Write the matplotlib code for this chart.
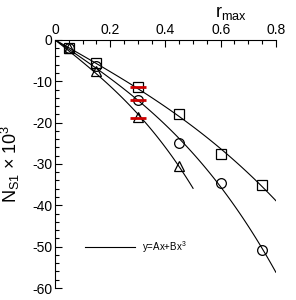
import numpy as np
import matplotlib.pyplot as plt
from matplotlib.ticker import MultipleLocator

plt.rcParams['font.family'] = ['Liberation Sans', 'DejaVu Sans']
plt.rcParams['mathtext.fontset'] = 'custom'
plt.rcParams['mathtext.rm'] = 'Liberation Sans'
plt.rcParams['mathtext.it'] = 'Liberation Sans'

# data
x_sq = [0.05, 0.15, 0.30, 0.45, 0.60, 0.75]
y_sq = [-2.0, -5.5, -11.5, -18.0, -27.5, -35.0]
x_ci = [0.05, 0.15, 0.30, 0.45, 0.60, 0.75]
y_ci = [-2.0, -6.3, -14.6, -25.0, -34.5, -50.7]
x_tr = [0.05, 0.15, 0.30, 0.45]
y_tr = [-2.0, -7.5, -18.7, -30.5]
x_red = [0.30, 0.30, 0.30]
y_red = [-11.3, -14.6, -19.0]
fit_end = [0.8, 0.8, 0.5]


def fit_curve(x, y, xmax):
    x = np.asarray(x)
    M = np.column_stack([x, x ** 3])
    (a, b), *_ = np.linalg.lstsq(M, np.asarray(y), rcond=None)
    xs = np.linspace(0, xmax, 100)
    return xs, a * xs + b * xs ** 3


fig = plt.figure(figsize=(2.96, 3.0), dpi=100)
ax = fig.add_axes([0.186, 0.04, 0.746, 0.827])

for (x, y, xe) in [(x_sq, y_sq, fit_end[0]), (x_ci, y_ci, fit_end[1]), (x_tr, y_tr, fit_end[2])]:
    xs, ys = fit_curve(x, y, xe)
    ax.plot(xs, ys, color='black', lw=0.8)

ax.plot(x_sq, y_sq, 's', ms=7, mfc='none', mec='black', mew=0.9)
ax.plot(x_ci, y_ci, 'o', ms=7, mfc='none', mec='black', mew=0.9)
ax.plot(x_tr, y_tr, '^', ms=7, mfc='none', mec='black', mew=0.9)
ax.plot(x_red, y_red, '_', ms=12, color='#cc0000', mew=2)

# legend
ax.plot([0.11, 0.29], [-50, -50], color='black', lw=0.8)
ax.text(0.315, -50, r'y=Ax+Bx$^3$', fontsize=7, va='center', ha='left')

ax.set_xlim(0, 0.8)
ax.set_ylim(-60, 0)
ax.xaxis.tick_top()
ax.spines['right'].set_visible(False)
ax.spines['bottom'].set_visible(False)
ax.xaxis.set_major_locator(MultipleLocator(0.2))
ax.xaxis.set_minor_locator(MultipleLocator(0.05))
ax.yaxis.set_major_locator(MultipleLocator(10))
ax.yaxis.set_minor_locator(MultipleLocator(2))
ax.xaxis.set_major_formatter(plt.FuncFormatter(lambda v, p: '0' if abs(v) < 1e-9 else f'{v:.1f}'))
ax.yaxis.set_major_formatter(plt.FuncFormatter(lambda v, p: f'{int(round(v))}'))
ax.tick_params(which='both', direction='in', labelsize=10, width=0.8, pad=2)
ax.tick_params(which='major', length=5)
ax.tick_params(which='minor', length=3)

fig.text(0.78, 0.955, r'r$_{\mathrm{max}}$', fontsize=13, ha='center', va='center')
fig.text(0.035, 0.455, r'N$_{S1}$ $\times$ 10$^3$', fontsize=13, rotation=90, ha='center', va='center')

fig.savefig('out.png', dpi=100)
